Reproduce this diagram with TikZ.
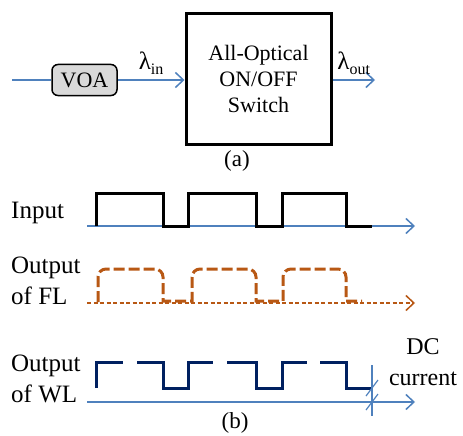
\documentclass[tikz,border=0pt]{standalone}
\usepackage{fontspec}
\setmainfont{Liberation Serif}
\usepackage{tikz}
\usetikzlibrary{positioning, arrows.meta}
\usepackage{xcolor}
\definecolor{fiberblue}{RGB}{79, 129, 189}
\definecolor{flbrown}{RGB}{184, 88, 20}
\definecolor{wlnavy}{RGB}{0, 32, 96}
\definecolor{voagray}{RGB}{217, 217, 217}

\newcommand{\lamsub}[1]{λ\raisebox{-5pt}{\fontsize{16}{16}\selectfont #1}}

\begin{document}
\begin{tikzpicture}[x=1pt, y=-1pt,
    fiberline/.style={fiberblue, line width=1.5pt},
    fiberarrow/.style={fiberblue, line width=1.5pt, -{Straight Barb[length=8pt, width=15pt]}},
    sigline/.style={line width=3pt, line join=miter},
    lbl/.style={font=\fontsize{25}{31}\selectfont, align=left, inner sep=0pt},
    lamlbl/.style={text=black, font=\fontsize{25}{26}\selectfont},
    voabox/.style={draw, line width=1.5pt, fill=voagray, rounded corners=6pt,
      minimum width=65pt, minimum height=31pt, font=\fontsize{22}{26}\selectfont},
    switchbox/.style={draw, line width=3pt, minimum width=145pt, minimum height=130pt,
      align=center, font=\fontsize{22}{26}\selectfont}]
  \useasboundingbox (0,0) rectangle (463,436);

  % --- (a) setup ---
  \coordinate (src) at (12,80);
  \node[voabox] (voa) at (84.5,80) {VOA};
  \node[switchbox] (sw) at (258.5,79) {All-Optical\\ON/OFF\\Switch};
  \coordinate (out) at (375,80);
  \draw[fiberline] (src) -- (voa.west);
  \draw[fiberarrow] (voa.east) -- (sw.west |- voa.east)
    node[midway, above=1pt, lamlbl] (lin) {\lamsub{in}};
  \draw[fiberarrow] (sw.east |- out) -- (out)
    node[midway, above=1pt, lamlbl] (lout) {\lamsub{out}};
  \node[font=\fontsize{23}{26}\selectfont, inner sep=0pt] (capa) at (237,161) {(a)};

  % --- (b) input ---
  \node[lbl, anchor=west] (inlbl) at (11,213) {Input};
  \coordinate (in0) at (87,226);
  \coordinate (in1) at (415,226);
  \draw[fiberarrow] (in0) -- (in1);
  \draw[sigline, black] (96,226) -- (96,193) -- (163,193) -- (163,226) -- (188,226)
    -- (188,193) -- (256,193) -- (256,226) -- (282,226) -- (282,193) -- (346,193)
    -- (346,226) -- (372,226);

  % --- (b) output of FL ---
  \node[lbl, anchor=west] (fllbl) at (11,281) {Output\\of FL};
  \coordinate (fl0) at (87,303);
  \coordinate (fl1) at (415,303);
  \draw[flbrown, line width=1.5pt, dash pattern=on 4pt off 2.5pt,
    -{Straight Barb[length=8pt, width=15pt]}] (fl0) -- (fl1);
  \draw[sigline, flbrown, dash pattern=on 11pt off 4pt] (98,302)
    [rounded corners=8pt] -- (98,269) -- (163,269) [sharp corners] -- (163,301) -- (192,301)
    [rounded corners=8pt] -- (192,269) -- (256,269) [sharp corners] -- (256,301) -- (283,301)
    [rounded corners=8pt] -- (283,269) -- (346,269) [sharp corners] -- (346,301) -- (362,301);

  % --- (b) output of WL ---
  \node[lbl, anchor=west] (wllbl) at (11,379) {Output\\of WL};
  \coordinate (wl0) at (87,402);
  \coordinate (wl1) at (415,402);
  \draw[fiberarrow] (wl0) -- (wl1);
  \draw[sigline, wlnavy] (96,388) -- (96,362) -- (123,362);
  \draw[sigline, wlnavy] (137,362) -- (163,362) -- (163,388) -- (188,388) -- (188,362) -- (213,362);
  \draw[sigline, wlnavy] (227,362) -- (256,362) -- (256,388) -- (282,388) -- (282,362) -- (307,362);
  \draw[sigline, wlnavy] (320,362) -- (346,362) -- (346,388) -- (372,388);

  % DC offset marker
  \draw[fiberline, line width=1.2pt] (372,365) -- (372,416);
  \draw[fiberline, line width=1.2pt] (366,396) -- (378,380);
  \draw[fiberline, line width=1.2pt] (366,410) -- (378,394);
  \node[font=\fontsize{24}{31}\selectfont, align=center] (dc) at (423,362) {DC\\current};
  \node[font=\fontsize{23}{26}\selectfont, inner sep=0pt] (capb) at (235,423) {(b)};
\end{tikzpicture}
\end{document}
